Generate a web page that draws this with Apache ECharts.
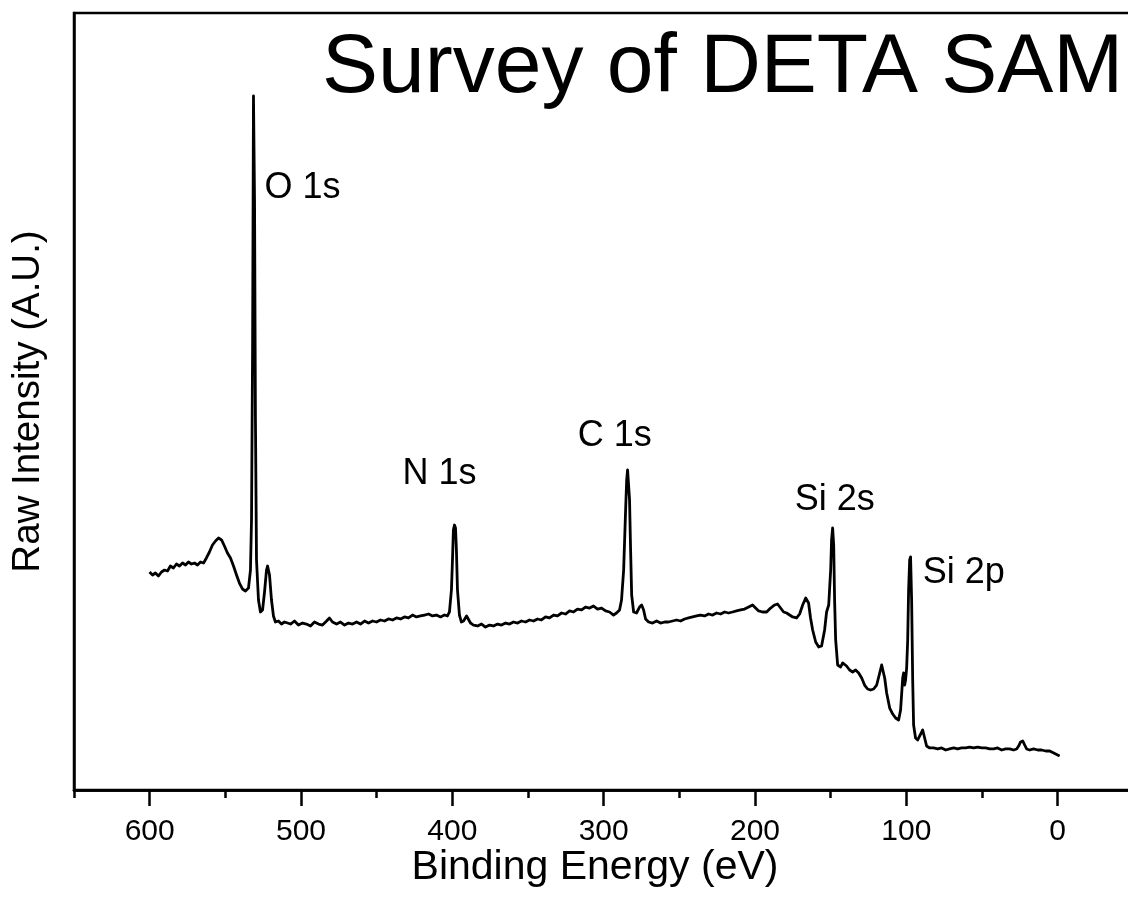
<!DOCTYPE html>
<html>
<head>
<meta charset="utf-8">
<title>Survey of DETA SAM</title>
<script src="https://cdn.jsdelivr.net/npm/echarts@6/dist/echarts.min.js"></script>
<style>
  html, body { margin: 0; padding: 0; background: #fff; overflow: hidden; }
  #chart { width: 1220px; height: 909px; }
</style>
</head>
<body>
<div id="chart"></div>
<script>
// XPS survey spectrum: binding energy (eV) and raw intensity (arbitrary units)
const bindingEnergy = [
  600.1, 598.1, 596.2, 594.2, 592.2, 590.2, 588.2, 586.3, 584.3, 582.3, 580.3, 578.3, 576.3, 574.4, 572.4, 570.4,
  568.4, 566.4, 564.4, 562.5, 560.5, 558.5, 556.5, 554.5, 552.5, 550.6, 548.6, 546.6, 544.6, 542.6, 540.7, 538.7,
  536.7, 534.7, 533.4, 532.7, 532.0, 531.4, 530.7, 530.1, 529.4, 528.1, 526.8, 525.4, 524.1, 522.8, 522.1, 520.8,
  519.5, 518.2, 516.9, 514.9, 512.9, 510.9, 508.9,
  506.9, 504.3, 501.7, 499.0, 496.4, 493.7, 491.1, 488.4, 485.8, 483.1, 481.2, 479.2, 476.5, 473.9, 471.2, 468.6,
  465.9, 463.3, 460.7, 458.0, 455.4, 452.7, 450.1, 447.5, 444.8, 442.2, 439.5, 436.9, 434.2, 431.6, 429.0, 426.3,
  423.7, 421.0, 418.4, 415.7, 413.1, 410.5, 407.8, 405.2, 403.2, 401.9, 400.6, 399.9, 399.3, 398.6, 397.9, 397.3,
  396.6, 395.3, 394.0, 392.6, 390.6, 389.3, 388.0, 386.0,
  383.3, 380.7, 378.1, 375.4, 372.8, 370.1, 367.5, 364.8, 362.2, 359.6, 356.9, 354.3, 351.6, 349.0, 346.3, 343.7,
  341.1, 338.4, 335.8, 333.1, 330.5, 327.8, 325.2, 322.5, 319.9, 317.3, 314.6, 312.0, 309.3, 306.7, 304.0, 301.4,
  298.7, 296.1, 293.5, 291.5, 289.5, 288.2, 286.8, 285.5, 284.8, 284.2, 283.5, 282.9, 282.2, 281.5, 280.2, 278.3,
  276.3, 274.9, 273.6, 272.3, 270.3,
  267.7, 265.0, 262.4, 259.7, 257.1, 254.5, 251.8, 249.2, 246.5, 243.9, 241.2, 238.6, 236.0, 233.3, 230.7, 228.0,
  225.4, 222.7, 220.1, 217.5, 214.8, 212.2, 209.5, 206.9, 204.2, 201.6, 199.6, 197.6, 195.0, 192.3, 189.7, 187.0,
  185.1, 183.1, 181.1, 179.1, 177.1, 175.1, 172.5, 170.5, 168.5, 166.5, 165.8, 164.6, 163.3, 161.9, 159.9, 157.9,
  156.0, 154.0, 152.7, 151.3, 150.0, 149.4, 148.7, 148.0, 147.4, 146.7, 145.4, 143.4, 142.1, 140.8, 139.5, 137.5,
  135.5, 133.5, 131.5, 129.5, 127.6, 125.6, 123.6, 121.6, 119.6, 117.6, 116.3, 115.7, 114.3, 113.0, 111.0, 109.0,
  107.1, 105.1, 103.8, 102.4, 101.8, 101.1, 100.5, 99.8, 99.1, 98.5, 97.8, 97.2, 96.5, 95.8, 95.2, 93.9,
  92.5, 91.2, 89.9, 89.2, 87.9, 86.6, 84.6,
  82.0, 79.3, 76.7, 74.0, 71.4, 68.7, 66.1, 63.5, 60.8, 58.2, 55.5, 52.9, 50.2, 47.6, 44.9, 42.3,
  39.7, 37.0, 34.4, 31.7, 29.1, 27.1, 25.8, 24.5, 23.1, 21.8, 20.5, 18.5, 15.9, 13.2, 10.6, 7.9,
  5.3, 2.6, 0.0, -1.3
];

const rawIntensity = [
  280.6, 276.7, 279.3, 275.4, 280.6, 283.1, 281.9, 288.3, 285.7, 290.9, 288.3, 292.1, 289.6, 293.4, 290.9, 292.1,
  289.6, 293.4, 292.1, 298.6, 306.3, 315.3, 320.5, 324.3, 321.8, 314.0, 305.0, 298.6, 288.3, 276.7, 266.4, 258.7,
  256.1, 260.0, 283.1, 347.5, 566.3, 893.2, 759.3, 476.2, 296.0, 244.5, 229.1, 231.7, 254.8, 283.1, 288.3, 276.7,
  244.5, 223.9, 216.2, 217.5, 213.6, 216.2, 214.9,
  213.6, 217.5, 212.3, 214.9, 213.6, 211.1, 216.2, 213.6, 212.3, 217.5, 221.4, 216.2, 213.6, 216.2, 212.3, 214.9,
  213.6, 216.2, 213.6, 217.5, 214.9, 217.5, 216.2, 218.8, 217.5, 220.1, 218.8, 221.4, 220.1, 222.7, 221.4, 225.2,
  222.7, 224.0, 225.2, 226.5, 224.0, 225.2, 222.7, 225.2, 224.0, 229.1, 257.4, 296.0, 334.6, 341.0, 337.2, 308.9,
  257.4, 225.2, 216.2, 217.5, 224.0, 222.7, 214.9, 212.3,
  211.1, 213.6, 209.7, 212.3, 211.1, 213.6, 212.3, 214.9, 213.6, 216.2, 214.9, 217.5, 216.2, 218.8, 217.5, 220.1,
  218.8, 222.7, 221.4, 225.2, 224.0, 227.8, 226.5, 230.4, 229.1, 232.9, 231.7, 235.5, 234.2, 236.8, 232.9, 234.2,
  230.4, 229.1, 225.2, 227.8, 231.7, 244.5, 283.1, 360.4, 399.0, 411.9, 409.4, 373.3, 308.9, 251.0, 229.1, 227.8,
  235.5, 238.1, 231.7, 220.1, 216.2,
  214.9, 217.5, 214.9, 216.2, 216.2, 217.5, 218.8, 217.5, 220.1, 221.4, 222.7, 224.0, 225.2, 224.0, 226.5, 225.2,
  227.8, 226.5, 229.1, 227.8, 229.1, 230.4, 231.7, 232.9, 235.5, 238.1, 234.2, 230.4, 229.1, 229.1, 234.2, 238.1,
  239.4, 234.2, 229.1, 227.8, 225.2, 222.7, 221.4, 226.5, 238.1, 247.1, 248.4, 240.6, 221.4, 205.9, 190.5, 184.1,
  185.3, 205.9, 229.1, 238.1, 283.1, 321.8, 337.2, 315.3, 244.5, 193.1, 160.9, 158.3, 163.5, 166.0, 159.6, 154.4,
  151.9, 154.4, 150.6, 144.1, 135.1, 130.0, 128.7, 130.0, 135.1, 150.6, 160.9, 159.6, 144.1, 124.8, 105.5, 97.8,
  92.7, 90.1, 103.0, 144.1, 150.6, 135.1, 141.6, 157.0, 193.1, 257.4, 296.0, 300.0, 244.5, 141.6, 83.7, 66.9,
  64.4, 66.9, 74.6, 77.2, 66.9, 56.6, 54.1,
  54.1, 52.8, 54.1, 51.5, 52.8, 54.1, 52.8, 54.1, 54.1, 55.3, 54.1, 55.3, 54.1, 54.1, 52.8, 52.8,
  54.1, 51.5, 52.8, 52.8, 51.5, 52.8, 56.6, 61.8, 63.1, 57.9, 52.8, 51.5, 52.8, 51.5, 51.5, 50.2,
  50.2, 47.6, 45.0, 43.8
];

// Peak assignments and where their labels sit (energy, intensity of the label's left edge)
const peakLabels = ['O 1s', 'N 1s', 'C 1s', 'Si 2s', 'Si 2p'];
const labelEnergy = [524.1, 432.9, 317.2, 173.8, 89.2];
const labelIntensity = [774.8, 406.7, 455.6, 373.2, 279.3];

// Axis range, labelled (major) ticks and minor ticks
const energyMin = -100;
const energyMax = 650;
const majorTicks = [600, 500, 400, 300, 200, 100, 0, -100];
const minorTicks = [650, 550, 450, 350, 250, 150, 50, -50];
const tickLabels = ['600', '500', '400', '300', '200', '100', '0'];

const FONT = '"Liberation Sans", Arial, Helvetica, sans-serif';

const spectrum = bindingEnergy.map((e, i) => [e, rawIntensity[i]]);

const chart = echarts.init(document.getElementById('chart'), null, { renderer: 'canvas' });

const baseX = {
  type: 'value', gridIndex: 0, inverse: true, position: 'bottom', offset: 0,
  min: energyMin, max: energyMax, interval: 50,
  splitLine: { show: false },
  axisLine: { show: true, onZero: false, lineStyle: { color: '#000', width: 2.5 } }
};

chart.setOption({
  animation: false,
  backgroundColor: '#ffffff',
  grid: {
    // plot is wider than the window, so its right edge falls outside the view
    left: 74, top: 13, width: 1135, height: 777,
    show: true, borderColor: '#000', borderWidth: 2.5, backgroundColor: 'transparent'
  },
  xAxis: [
    Object.assign({}, baseX, {
      axisTick: { show: true, length: 16, customValues: majorTicks, lineStyle: { color: '#000', width: 2.5 } },
      axisLabel: {
        show: true, margin: 27, color: '#000', fontSize: 30, fontFamily: FONT,
        customValues: tickLabels.map(Number),
        formatter: v => String(v)
      }
    }),
    Object.assign({}, baseX, {
      axisTick: { show: true, length: 8, customValues: minorTicks, lineStyle: { color: '#000', width: 2.5 } },
      axisLabel: { show: false }
    })
  ],
  yAxis: {
    type: 'value', min: 0, max: 1000,
    splitLine: { show: false },
    axisLine: { show: true, onZero: false, lineStyle: { color: '#000', width: 2.5 } },
    axisTick: { show: false },
    axisLabel: { show: false },
    name: 'Raw Intensity (A.U.)',
    nameLocation: 'middle',
    nameGap: 26,
    nameTextStyle: { color: '#000', fontSize: 38.5, fontFamily: FONT }
  },
  graphic: [
    {
      type: 'text', x: 322, y: 27, silent: true,
      style: { text: 'Survey of DETA SAM', fill: '#000', font: '84px ' + FONT, align: 'left', verticalAlign: 'top' }
    },
    {
      type: 'text', x: 595, y: 847, silent: true,
      style: { text: 'Binding Energy (eV)', fill: '#000', font: '41px ' + FONT, align: 'center', verticalAlign: 'top' }
    }
  ],
  series: [
    {
      type: 'line',
      xAxisIndex: 0, yAxisIndex: 0,
      data: spectrum,
      showSymbol: false,
      symbol: 'none',
      lineStyle: { color: '#000', width: 2.8, join: 'round' },
      markPoint: {
        symbol: 'circle', symbolSize: 0, silent: true,
        label: {
          show: true, position: 'right', distance: 0,
          color: '#000', fontSize: 36, fontFamily: FONT
        },
        data: peakLabels.map((name, i) => ({
          coord: [labelEnergy[i], labelIntensity[i]],
          value: name,
          label: { formatter: name }
        }))
      }
    }
  ]
});
</script>
</body>
</html>
